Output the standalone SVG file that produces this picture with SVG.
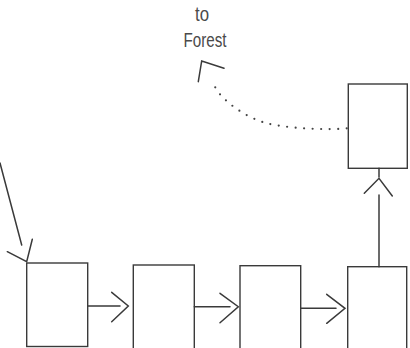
<svg xmlns="http://www.w3.org/2000/svg" width="410" height="348" viewBox="0 0 410 348">
<style>
.box{fill:none;stroke:#3a3a3a;stroke-width:1.4}
.ln{fill:none;stroke:#3a3a3a;stroke-width:1.5;stroke-linecap:round}
.dot{fill:none;stroke:#444;stroke-width:2.2;stroke-linecap:round;stroke-dasharray:0 8.5}
.lbl{font-family:"Liberation Sans",Arial,sans-serif;font-size:20.5px;fill:#4a4a4a}
</style>
<rect width="410" height="348" fill="#fff"/>
<g id="label">
<text class="lbl" x="195" y="20.5" textLength="14" lengthAdjust="spacingAndGlyphs">to</text>
<text class="lbl" x="183.5" y="46.5" textLength="43" lengthAdjust="spacingAndGlyphs">Forest</text>
</g>
<g id="n1"><rect class="box" x="26.7" y="263" width="61" height="83.5"/></g>
<g id="n2"><rect class="box" x="133.3" y="265" width="61" height="90"/></g>
<g id="n3"><rect class="box" x="240" y="265.7" width="60.7" height="90"/></g>
<g id="n4"><rect class="box" x="347.7" y="266.7" width="59" height="90"/></g>
<g id="n5"><rect class="box" x="348.3" y="84" width="59" height="84.3"/></g>
<g id="connectors">
<path class="ln" d="M0,163 L21.7,245"/>
<path class="ln" d="M7.3,251.7 L26.7,261.7 L32.3,239.3"/>
<path class="ln" d="M87.7,306 L120,306"/>
<path class="ln" d="M111.7,292.3 L128.3,306 L111.7,321.7"/>
<path class="ln" d="M194.3,306.7 L230,306.7"/>
<path class="ln" d="M220,293.3 L238.3,306.7 L220,322.7"/>
<path class="ln" d="M300.7,308.3 L336,308.3"/>
<path class="ln" d="M326.7,294.3 L345,308.3 L326.7,323.3"/>
<path class="ln" d="M379,266.7 L379,195"/>
<path class="ln" d="M364.3,193.3 L379,178.3 L392.3,196"/>
<path class="ln" d="M379,168.3 L379,177"/>
<path class="dot" d="M346.7,128.3 L336.7,129 C310,129.5 285,127.5 266.7,123.3 C245,117 226,103 216,89.3 L212.7,80.7"/>
<path class="ln" d="M198.3,81.7 L201.7,61 L224,68.3"/>
</g>
</svg>
